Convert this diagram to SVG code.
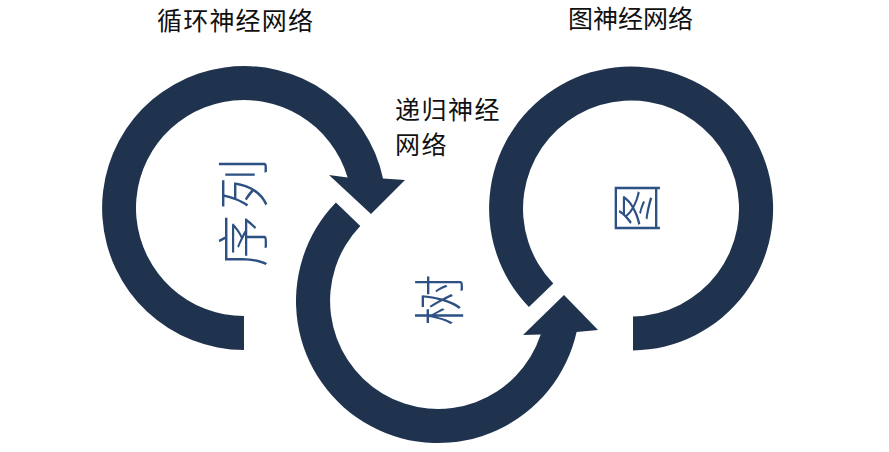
<svg xmlns="http://www.w3.org/2000/svg" width="889" height="452" viewBox="0 0 889 452">
<style>
.ring{fill:#1F334F;}
.lbl{font-family:"Noto Sans CJK SC","Noto Sans CJK JP",sans-serif;font-size:25px;fill:#111;}
.core{font-family:"Noto Sans CJK SC","Noto Sans CJK JP",sans-serif;font-size:52px;font-weight:300;fill:#2D5183;text-anchor:middle;dominant-baseline:central;}
</style>
<rect width="889" height="452" fill="#ffffff"/>
<g id="connectors"></g>
<g id="node-sequence">
<path class="ring" d="M244,350 A142,142 0 1 1 383,178.5 L405,180 L371,214 L329,175 L347.6,177.5 A108,108 0 1 0 244,316 Z"/>
<text class="core" x="240" y="210" transform="rotate(-90 240 210)" letter-spacing="5">序列</text>
</g>
<g id="node-tree">
<path class="ring" d="M335.9,202.4 A142,142 0 1 0 576.6,332 L598,330 L564,295 L523,335 L540.7,334.6 A108,108 0 1 1 360.3,226 Z"/>
<text class="core" x="436" y="300" transform="rotate(-90 436 300)">树</text>
</g>
<g id="node-graph">
<path class="ring" d="M633,350.5 A142,142 0 1 0 528.9,307.1 L553.3,283.5 A108,108 0 1 1 633,316.5 Z"/>
<text class="core" x="633" y="208" font-size="48" transform="rotate(-90 633 208)">图</text>
</g>
<g id="labels">
<text class="lbl" x="157" y="30" textLength="156">循环神经网络</text>
<text class="lbl" x="395" y="119" font-size="24" letter-spacing="1.5">递归神经</text>
<text class="lbl" x="395" y="154" font-size="24" letter-spacing="1.5">网络</text>
<text class="lbl" x="568" y="28">图神经网络</text>
</g>
</svg>
